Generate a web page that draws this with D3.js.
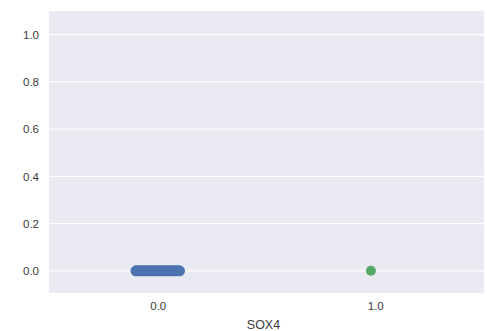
<!DOCTYPE html>
<html><head><meta charset="utf-8">
<script src="https://cdn.jsdelivr.net/npm/d3@7"></script>
<style>body{margin:0;background:#fff}svg{display:block}text{font-family:"Liberation Sans",Arial,sans-serif}</style>
</head><body><svg id="c" width="487" height="331"></svg>
<script>
const categories = ["0.0", "1.0"];
const yTicks = [0.0, 0.2, 0.4, 0.6, 0.8, 1.0];
const yTickLabels = ["0.0", "0.2", "0.4", "0.6", "0.8", "1.0"];
// stripplot points: category, value, jitter offset
const blueJitter = [-0.10,-0.09,-0.08,-0.07,-0.06,-0.05,-0.04,-0.03,-0.02,-0.01,0.00,0.01,0.02,0.03,0.04,0.05,0.06,0.07,0.08,0.09,0.10];
const blueValues = [0,0,0,0,0,0,0,0,0,0,0,0,0,0,0,0,0,0,0,0,0];
const greenJitter = [-0.02];
const greenValues = [0.0];
const colors = ["#4c72b0", "#55a868"];
const xLabel = "SOX4";

const svg = d3.select("#c");
const m = {l:49, r:3, t:11, b:38};
const W = 487, H = 331;
const x = d3.scaleLinear().domain([-0.5, 1.5]).range([m.l, W - m.r]);
const y = d3.scaleLinear().domain([-0.094, 1.10]).range([H - m.b, m.t]);

svg.append("rect").attr("x", m.l).attr("y", m.t)
  .attr("width", W - m.r - m.l).attr("height", H - m.b - m.t).attr("fill", "#eaeaf2");

const yAxis = d3.axisLeft(y).tickValues(yTicks).tickFormat((d,i) => yTickLabels[i]).tickSize(0).tickPadding(10);
const gy = svg.append("g").attr("transform", `translate(${m.l},0)`).call(yAxis);
gy.select(".domain").remove();
gy.selectAll("text").attr("font-size", 11.5).attr("fill", "#3a3a3a");
svg.append("g").selectAll("line").data(yTicks).join("line")
  .attr("x1", m.l).attr("x2", W - m.r).attr("y1", d => y(d)).attr("y2", d => y(d))
  .attr("stroke", "#fff").attr("stroke-width", 1.2);

const xAxis = d3.axisBottom(x).tickValues([0, 1]).tickFormat((d,i) => categories[i]).tickSize(0).tickPadding(9);
const gx = svg.append("g").attr("transform", `translate(0,${H - m.b})`).call(xAxis);
gx.select(".domain").remove();
gx.selectAll("text").attr("font-size", 11.5).attr("fill", "#3a3a3a");

svg.append("text").attr("x", (m.l + W - m.r) / 2 - 3).attr("y", 329)
  .attr("text-anchor", "middle").attr("font-size", 12.5).attr("fill", "#3a3a3a").text(xLabel);

svg.append("g").selectAll("circle").data(blueValues).join("circle")
  .attr("cx", (d,i) => x(0 + blueJitter[i])).attr("cy", d => y(d)).attr("r", 5.5)
  .attr("fill", colors[0]);
svg.append("g").selectAll("circle").data(greenValues).join("circle")
  .attr("cx", (d,i) => x(1 + greenJitter[i])).attr("cy", d => y(d)).attr("r", 5)
  .attr("fill", colors[1]);
</script></body></html>
